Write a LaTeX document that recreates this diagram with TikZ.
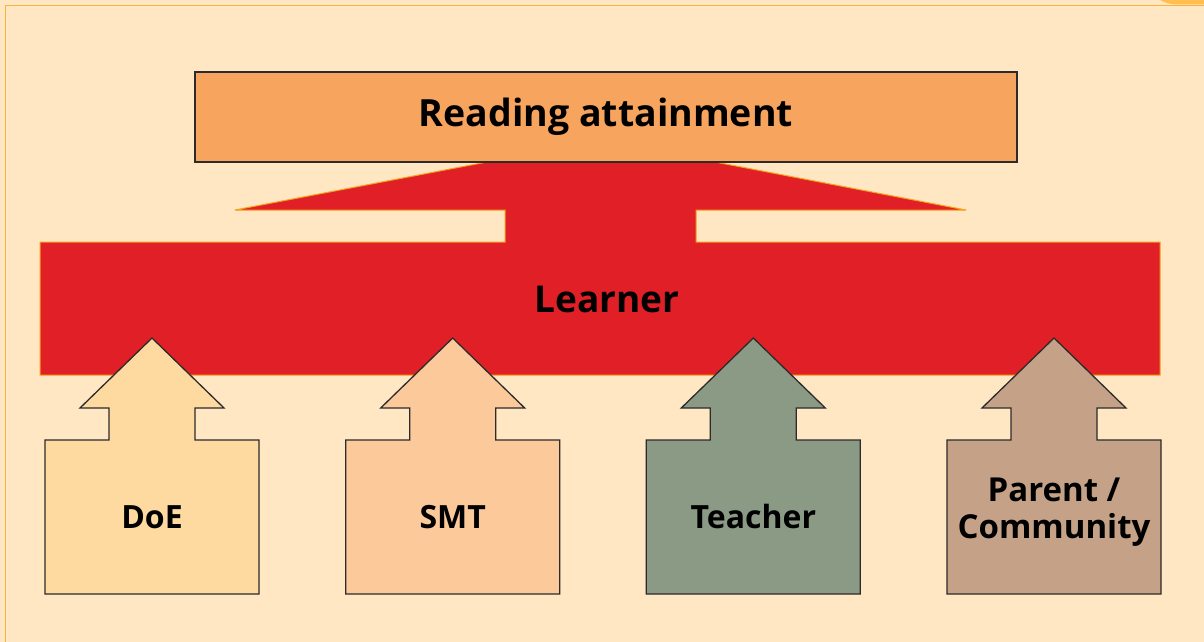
\documentclass[tikz,border=0pt]{standalone}
\usepackage{fontspec}
\setmainfont{Open Sans}
\definecolor{bg}{HTML}{FFE7C4}
\definecolor{frameorange}{HTML}{FBB040}
\definecolor{blob}{HTML}{FFBE4D}
\definecolor{topbox}{HTML}{F7A55E}
\definecolor{learnerred}{HTML}{E11F26}
\definecolor{redline}{HTML}{F7A11A}
\definecolor{doecol}{HTML}{FED9A0}
\definecolor{smtcol}{HTML}{FCC99B}
\definecolor{teachcol}{HTML}{8A9A85}
\definecolor{parentcol}{HTML}{C5A287}
\definecolor{edge}{HTML}{2B2B2B}
\tikzset{
  boxedge/.style={draw=edge, line width=1.3pt, line join=miter},
  redshape/.style={fill=learnerred, draw=redline, line width=1pt},
  lbl/.style={font=\bfseries, text=black, align=center, inner sep=0pt},
}
\newcommand{\upbox}[2]{% center x, colour
  \path[boxedge, fill=#2]
    (#1,338) -- (#1+72,408) -- (#1+43,408) -- (#1+43,440) -- (#1+107,440)
    -- (#1+107,594) -- (#1-107,594) -- (#1-107,440) -- (#1-43,440)
    -- (#1-43,408) -- (#1-72,408) -- cycle;
}
\begin{document}
\begin{tikzpicture}[x=1pt,y=-1pt]
  \useasboundingbox (0,0) rectangle (1204,642);
  \fill[bg] (0,0) rectangle (1204,642);
  % frame
  \draw[frameorange, line width=1.8pt] (5.5,642) -- (5.5,5.5) -- (1204,5.5);
  \fill[blob] (1204,0) -- (1160,0) .. controls (1166,3.5) and (1172,4.5) .. (1180,4.5) -- (1204,4.5) -- cycle;
  % red learner shape
  \path[redshape] (487,162) -- (715,162) -- (966,210) -- (696,210) -- (696,242)
    -- (1160,242) -- (1160,375) -- (40,375) -- (40,242) -- (505,242)
    -- (505,210) -- (235,210) -- cycle;
  % top box
  \path[boxedge, fill=topbox] (195,72) rectangle (1017,162);
  \node[lbl, font=\fontsize{37.5}{42}\selectfont\bfseries] (reading) at (606,117) {Reading attainment};
  \node[lbl, font=\fontsize{37}{42}\selectfont\bfseries] (learner) at (607,299) {Learner};
  % up arrows
  \upbox{152}{doecol}
  \upbox{452.7}{smtcol}
  \upbox{753.3}{teachcol}
  \upbox{1054}{parentcol}
  \node[lbl, font=\fontsize{32}{36}\selectfont\bfseries] (doe) at (152,517) {DoE};
  \node[lbl, font=\fontsize{32}{36}\selectfont\bfseries] (smt) at (452.7,517) {SMT};
  \node[lbl, font=\fontsize{32}{36}\selectfont\bfseries] (teacher) at (753.3,516) {Teacher};
  \node[lbl, font=\fontsize{33}{37}\selectfont\bfseries] (parent) at (1054,512) {Parent /\\Community};
\end{tikzpicture}
\end{document}
